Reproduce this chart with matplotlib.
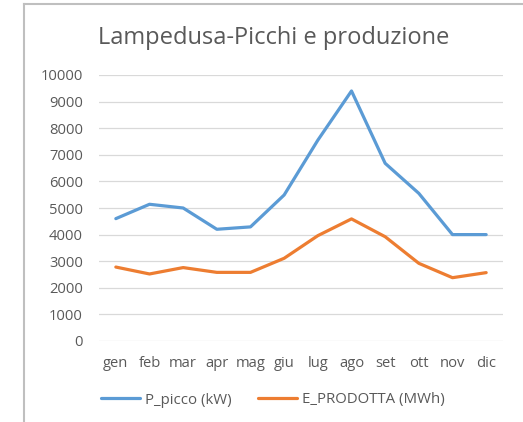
import matplotlib
matplotlib.use("Agg")
import matplotlib.pyplot as plt
from matplotlib.lines import Line2D

months = ["gen", "feb", "mar", "apr", "mag", "giu", "lug", "ago", "set", "ott", "nov", "dic"]
p_picco = [4600, 5140, 5000, 4200, 4290, 5490, 7550, 9400, 6680, 5550, 4000, 4000]
e_prodotta = [2780, 2520, 2760, 2580, 2580, 3110, 3960, 4590, 3920, 2920, 2380, 2570]
yticks = list(range(0, 10001, 1000))

plt.rcParams['font.family'] = ['Open Sans', 'DejaVu Sans']

W, H = 523, 422
fig = plt.figure(figsize=(W / 100, H / 100), dpi=100)
ax = fig.add_axes([99 / W, 1 - 341 / H, (503 - 99) / W, (341 - 75) / H])

x = list(range(len(months)))
l1, = ax.plot(x, p_picco, color="#5b9bd5", lw=2.3, solid_capstyle="round", label="P_picco (kW)")
l2, = ax.plot(x, e_prodotta, color="#ed7d31", lw=2.3, solid_capstyle="round", label="E_PRODOTTA (MWh)")

ax.set_xlim(-0.5, 11.5)
ax.set_ylim(0, 10000)
ax.set_yticks(yticks)
ax.set_yticklabels([str(v) for v in yticks])
ax.set_xticks(x)
ax.set_xticklabels(months)
ax.grid(axis="y", color="#d9d9d9", lw=0.9)
ax.set_axisbelow(True)
for s in ax.spines.values():
    s.set_visible(False)
ax.tick_params(axis="both", length=0, colors="#595959", labelsize=10.6)
ax.tick_params(axis="y", pad=11.5)
ax.tick_params(axis="x", pad=10.5)

fig.text(274 / W, 1 - 38 / H, "Lampedusa-Picchi e produzione", ha="center", va="center",
         fontsize=17, color="#595959")

leg = fig.legend(handles=[l1, l2], loc="center", bbox_to_anchor=(273 / W, 1 - 400 / H),
                 ncol=2, frameon=False, fontsize=10.8, handlelength=2.6, columnspacing=1.8,
                 handletextpad=0.33)
for t in leg.get_texts():
    t.set_color("#595959")

fig.add_artist(Line2D([24 / W, 1.0], [1 - 4 / H, 1 - 4 / H], transform=fig.transFigure,
                      color="#bfbfbf", lw=1.5))
fig.add_artist(Line2D([24 / W, 24 / W], [1 - 4 / H, 0], transform=fig.transFigure,
                      color="#bfbfbf", lw=1.5))

fig.savefig("out.png", dpi=100, facecolor="white")
